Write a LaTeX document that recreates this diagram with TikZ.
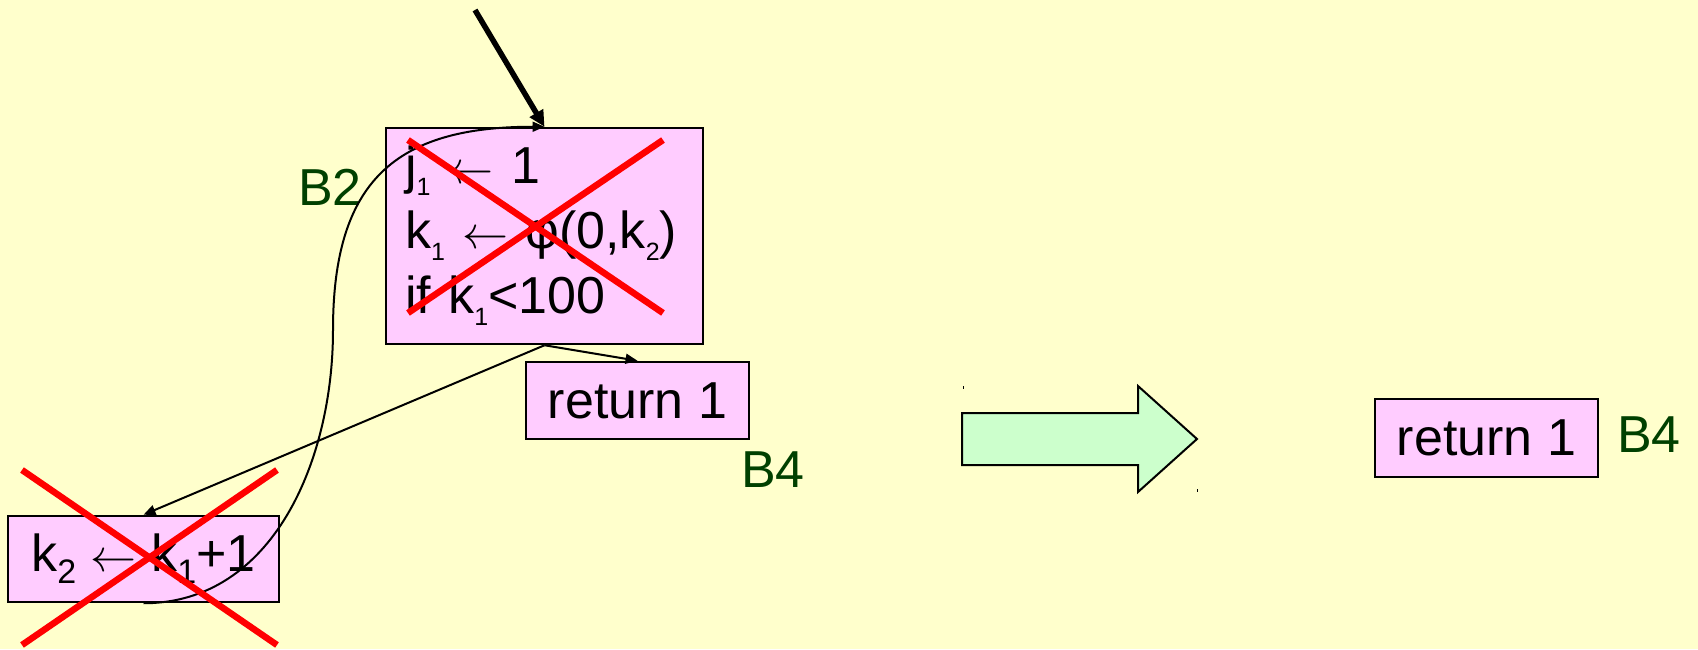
\documentclass[tikz,border=0pt]{standalone}
\usepackage{fontspec}
\usepackage{graphicx}
\setmainfont{Liberation Sans}
\usetikzlibrary{arrows.meta}
\definecolor{bgyellow}{RGB}{255,255,204}
\definecolor{blkpink}{RGB}{255,204,255}
\definecolor{arrowgreen}{RGB}{204,255,204}
\definecolor{lblgreen}{RGB}{0,64,0}
\newcommand{\lowidx}[2][25]{\raisebox{-12pt}{\fontsize{#1}{#1}\selectfont #2}}
\newcommand{\getsarr}{\resizebox{46pt}{!}{\ensuremath{\leftarrow}}}
\begin{document}
\begin{tikzpicture}[x=1pt,y=1pt,
  every node/.style={font=\fontsize{52}{65}\selectfont},
  blk/.style={draw,line width=2.5pt,fill=blkpink,inner sep=0pt},
  lbl/.style={text=lblgreen,anchor=base west,inner sep=0pt},
  cross/.style={draw=red,line width=6.5pt},
  flow/.style={-{Triangle[length=12pt,width=10pt]},line width=2pt}]
  \useasboundingbox (0,0) rectangle (1698,649);
  \fill[bgyellow] (0,0) rectangle (1698,649);
  \node[blk,text width=279pt,inner xsep=19pt,minimum height=216pt,align=left] (blkB2) at (544.5,413)
    {j\lowidx{1} \getsarr{} 1\\k\lowidx{1} \getsarr{} φ(0,k\lowidx{2})\\if k\lowidx{1}<100};
  \node[blk,minimum width=223pt,minimum height=77pt] (blkB4) at (637.5,248.5) {return 1};
  \node[blk,minimum width=271pt,minimum height=86pt] (blkB3) at (143.5,90)
    {k\lowidx[34]{2} \getsarr{} k\lowidx[34]{1}+1};
  \node[blk,minimum width=223pt,minimum height=78pt] (blkB4r) at (1486.5,211) {return 1};
  \node[lbl] (lblB2) at (298,443) {B2};
  \node[lbl] (lblB4) at (741,162) {B4};
  \node[lbl] (lblB4r) at (1617,197) {B4};
  \coordinate (entry) at (475,639);
  \coordinate (loop) at (333,319);
  \draw[-{Triangle[length=16pt,width=15pt]},line width=5.5pt] (entry) -- (blkB2.north);
  \draw[flow] (blkB2.south) -- (blkB4.north);
  \draw[flow] (blkB2.south) -- (blkB3.north);
  \draw[flow] (blkB3.south) to[out=0,in=-90] (loop) to[out=90,in=180,looseness=1.3] (blkB2.north);
  \draw[cross] (408,509) -- (663,336);
  \draw[cross] (408,336) -- (663,509);
  \draw[cross] (22,179) -- (277,4);
  \draw[cross] (22,4) -- (277,179);
  \draw[fill=arrowgreen,line width=2pt] (962,236) -- (1138,236) -- (1138,263) -- (1197,210)
    -- (1138,157) -- (1138,184) -- (962,184) -- cycle;
  \fill (962.5,260.5) rectangle (963.5,263.5);
  \fill (1196.5,157.5) rectangle (1197.5,160.5);
\end{tikzpicture}
\end{document}
